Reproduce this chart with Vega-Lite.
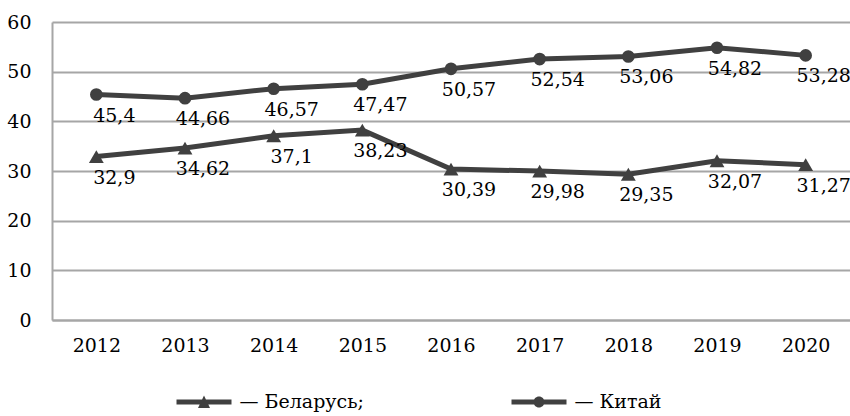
{
  "$schema": "https://vega.github.io/schema/vega-lite/v6.json",
  "width": 798,
  "height": 298,
  "autosize": {"type": "none"},
  "padding": {"left": 52, "top": 22, "right": 0, "bottom": 96},
  "config": {
    "locale": {"number": {"decimal": ",", "thousands": " ", "grouping": [3], "currency": ["", ""]}},
    "view": {"stroke": null},
    "font": "DejaVu Serif"
  },
  "data": {
    "values": [
      {"year": "2012", "country": "Беларусь", "value": 32.9},
      {"year": "2013", "country": "Беларусь", "value": 34.62},
      {"year": "2014", "country": "Беларусь", "value": 37.1},
      {"year": "2015", "country": "Беларусь", "value": 38.23},
      {"year": "2016", "country": "Беларусь", "value": 30.39},
      {"year": "2017", "country": "Беларусь", "value": 29.98},
      {"year": "2018", "country": "Беларусь", "value": 29.35},
      {"year": "2019", "country": "Беларусь", "value": 32.07},
      {"year": "2020", "country": "Беларусь", "value": 31.27},
      {"year": "2012", "country": "Китай", "value": 45.4},
      {"year": "2013", "country": "Китай", "value": 44.66},
      {"year": "2014", "country": "Китай", "value": 46.57},
      {"year": "2015", "country": "Китай", "value": 47.47},
      {"year": "2016", "country": "Китай", "value": 50.57},
      {"year": "2017", "country": "Китай", "value": 52.54},
      {"year": "2018", "country": "Китай", "value": 53.06},
      {"year": "2019", "country": "Китай", "value": 54.82},
      {"year": "2020", "country": "Китай", "value": 53.28}
    ]
  },
  "encoding": {
    "x": {
      "field": "year", "type": "ordinal",
      "scale": {"type": "point", "padding": 0.5},
      "axis": {"title": null, "labelAngle": 0, "ticks": false, "domainColor": "#a6a6a6", "domainWidth": 2, "labelFontSize": 19, "labelFont": "DejaVu Serif", "labelColor": "#000000", "labelPadding": 16, "grid": false}
    },
    "y": {
      "field": "value", "type": "quantitative",
      "scale": {"domain": [0, 60], "nice": false},
      "axis": {"title": null, "values": [0, 10, 20, 30, 40, 50, 60], "grid": true, "gridColor": "#a6a6a6", "gridWidth": 2, "domainColor": "#a6a6a6", "domainWidth": 2, "ticks": false, "labelPadding": 21, "labelFontSize": 19, "labelFont": "DejaVu Serif", "labelColor": "#000000"}
    }
  },
  "layer": [
    {
      "mark": {"type": "line", "color": "#404040", "strokeWidth": 5},
      "encoding": {"detail": {"field": "country"}}
    },
    {
      "mark": {"type": "point", "filled": true, "color": "#404040", "opacity": 0},
      "encoding": {
        "shape": {
          "field": "country", "type": "nominal",
          "scale": {"domain": ["Беларусь", "Китай"], "range": ["M-2.75,-0.25H2.75V0.25H-2.75Z M0,-0.65L0.6,0.6H-0.6Z", "M-2.75,-0.25H2.75V0.25H-2.75Z M-0.55,0A0.55,0.55 0 1,1 0.55,0A0.55,0.55 0 1,1 -0.55,0Z"]},
          "legend": {
            "orient": "none", "legendX": 142, "legendY": 370,
            "direction": "horizontal", "columns": 2, "columnPadding": 147,
            "title": null, "padding": 0,
            "symbolSize": 400, "symbolFillColor": "#404040", "symbolStrokeWidth": 0, "symbolOpacity": 1,
            "labelOffset": 25.5, "labelFontSize": 19, "labelColor": "#000000", "labelFont": "DejaVu Serif",
            "labelExpr": "'— ' + datum.label + (datum.label == 'Беларусь' ? ';' : '')"
          }
        }
      }
    },
    {
      "mark": {"type": "point", "filled": true, "color": "#404040", "opacity": 1},
      "encoding": {
        "shape": {
          "field": "country", "type": "nominal",
          "scale": {"domain": ["Беларусь", "Китай"], "range": ["triangle-up", "circle"]},
          "legend": null
        },
        "size": {
          "field": "country", "type": "nominal",
          "scale": {"domain": ["Беларусь", "Китай"], "range": [220, 160]},
          "legend": null
        }
      }
    },
    {
      "mark": {"type": "text", "dx": 18, "dy": 21, "fontSize": 19, "color": "#000000", "font": "DejaVu Serif"},
      "encoding": {"text": {"field": "value", "type": "quantitative", "format": "~g"}}
    }
  ],
  "resolve": {"scale": {"shape": "independent"}, "legend": {"shape": "independent"}}
}
